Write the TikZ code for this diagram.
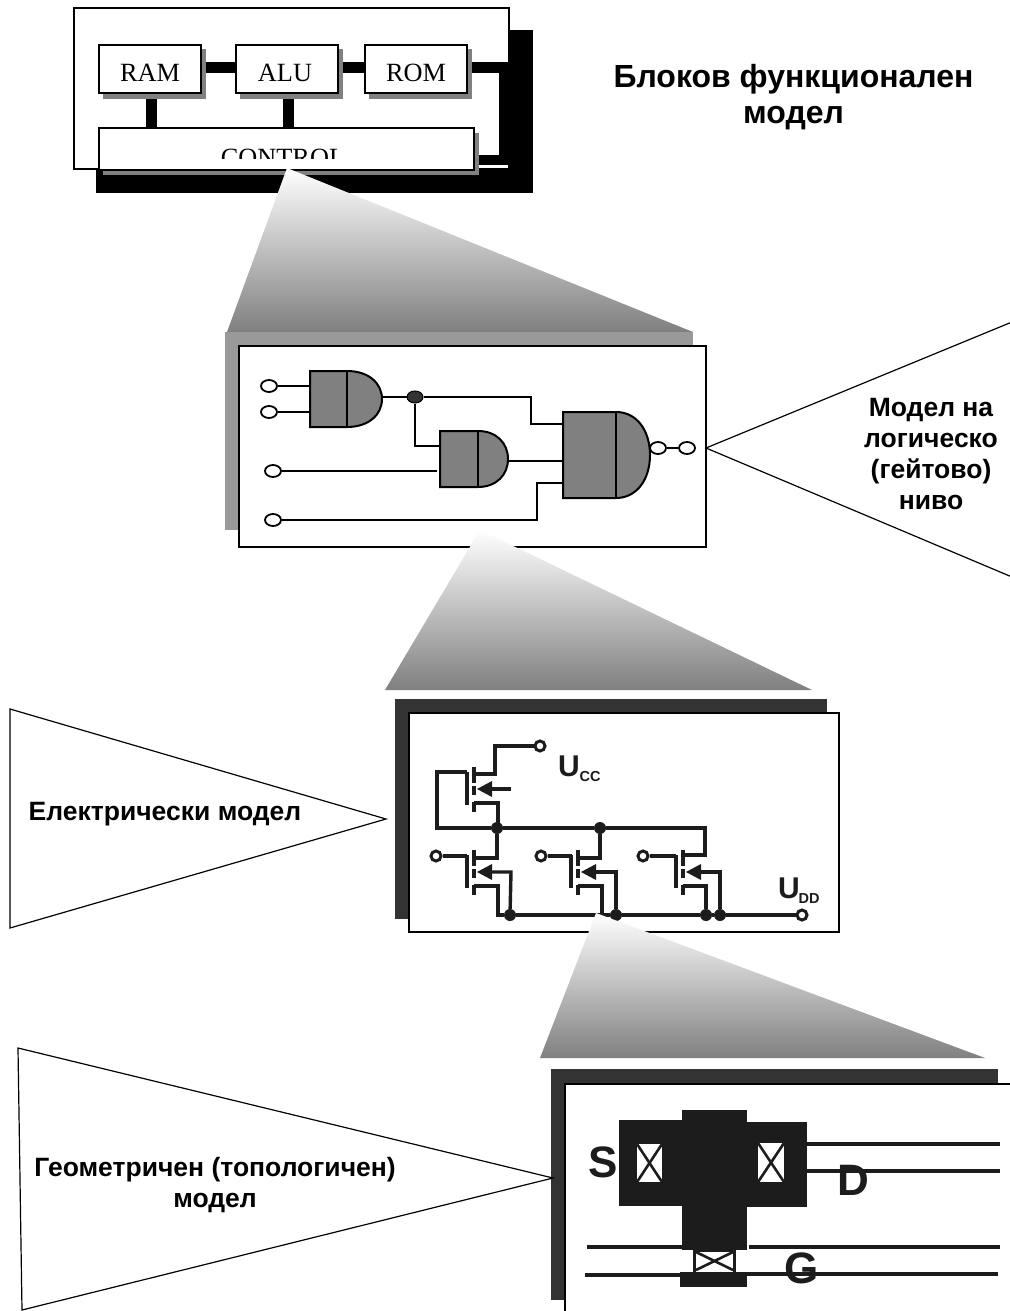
\documentclass[tikz,border=0pt]{standalone}
\usepackage{fontspec}
\setmainfont{Liberation Sans}
\newfontfamily\seriffam{Liberation Serif}
\usetikzlibrary{shapes.geometric}
\definecolor{shadowgrey}{gray}{0.5}
\definecolor{panelgrey}{gray}{0.6}
\definecolor{paneldark}{gray}{0.2}
\definecolor{metal}{gray}{0.11}
\tikzset{
  x=1pt,y=-1pt,
  whitebox/.style={draw=black,fill=white,line width=2pt},
  blockbox/.style={whitebox,minimum width=0pt},
  wedge/.style={top color=white,bottom color=shadowgrey,draw=none},
  callout/.style={draw=black,fill=white,line width=1.2pt,line join=miter},
  blocklabel/.style={font=\seriffam\fontsize{26.3}{30}\selectfont,anchor=base,inner sep=0pt},
  boldlabel/.style={font=\bfseries\fontsize{26.5}{31}\selectfont,align=center,inner sep=0pt},
  titlelabel/.style={font=\bfseries\fontsize{32}{36}\selectfont,align=center,inner sep=0pt},
  gatewire/.style={draw=black,line width=2pt},
  gateshape/.style={draw=black,fill=shadowgrey,line width=2pt},
  pinopen/.style={shape=ellipse,draw=black,fill=white,line width=1.8pt,minimum width=16pt,minimum height=12pt,inner sep=0pt},
  pindot/.style={shape=ellipse,draw=black,fill=paneldark,line width=1pt,minimum width=16pt,minimum height=12pt,inner sep=0pt},
  cwire/.style={draw=metal,line width=3.4pt,line join=miter},
  cdot/.style={shape=circle,fill=metal,draw=none,minimum size=12pt,inner sep=0pt},
  cpin/.style={shape=circle,draw=metal,fill=white,line width=3pt,minimum size=10pt,inner sep=0pt},
  ulabel/.style={font=\bfseries\fontsize{30}{32}\selectfont,text=metal,anchor=base,inner sep=0pt},
  usub/.style={font=\bfseries\fontsize{14.5}{16}\selectfont,text=metal,anchor=base,inner sep=0pt},
  sdg/.style={font=\bfseries\fontsize{44}{46}\selectfont,text=metal,anchor=base,inner sep=0pt},
  xcontact/.style={fill=white,draw=none},
  xcross/.style={draw=metal,line width=2.6pt},
  layline/.style={draw=metal,line width=4pt}
}
% AND gate outline: left, mid, tip x, top, bottom y
\newcommand{\andshape}[5]{%
  \path[gateshape] (#1,#4) -- (#2,#4)
    .. controls ({#2+0.62*(#3-#2)},#4) and (#3,{#4+0.22*(#5-#4)}) .. (#3,{0.5*(#4+#5)})
    .. controls (#3,{#5-0.22*(#5-#4)}) and ({#2+0.62*(#3-#2)},#5) .. (#2,#5)
    -- (#1,#5) -- cycle;
  \draw[gatewire] (#2,#4) -- (#2,#5);}
% MOSFET symbol without its leads, at shift dx; arrow row #2, top #3
\newcommand{\mosbody}[3]{%
  \begin{scope}[shift={(#1,0)}]
  \draw[cwire] (467,{#3+5}) -- (467,{#3+38});
  \draw[cwire] (474,#3) -- (474,{#3+16});
  \draw[cwire] (474,{#3+19}) -- (474,{#3+28});
  \draw[cwire] (474,{#3+35}) -- (474,{#3+45});
  \fill[metal] (477,#2) -- (492,{#2-8}) -- (492,{#2+8}) -- cycle;
  \end{scope}}
\begin{document}
\begin{tikzpicture}
\useasboundingbox (0,0) rectangle (1009,1311);
\fill[white] (0,0) rectangle (1009,1311);

% ---------- block functional model
\fill[black] (509,30) rectangle (533,193);
\fill[black] (96,165) rectangle (533,193);
\draw[whitebox] (74,8) rectangle (509,169);
\fill[white] (475,160) rectangle (508,168);
\fill[black] (478,155) rectangle (499,165);
\fill[white] (478,165) rectangle (508,167.5);
\fill[black] (499,73) rectangle (508.5,165);
\fill[black] (470,62) rectangle (508.5,73);
\fill[black] (205,62) rectangle (235,73);
\fill[black] (343,62) rectangle (364,73);
\fill[black] (146,98) rectangle (157,128);
\fill[black] (283,98) rectangle (294,128);
\foreach \l/\r/\t/\b in {98/201/44.5/94,235/338/44.5/94,364/467/44.5/94,98/474/128/170}
  \fill[shadowgrey] (\l+5,\t+5) rectangle (\r+5,\b+5);
\draw[blockbox] (99,45) rectangle (200.5,93.5);
\draw[blockbox] (235.5,45) rectangle (337.5,93.5);
\draw[blockbox] (364.5,45) rectangle (466.5,93.5);
\draw[blockbox] (99,128.5) rectangle (474,169.5);
\node[blocklabel] (ram) at (150,82) {RAM};
\node[blocklabel] (alu) at (285,82) {ALU};
\node[blocklabel] (rom) at (416,82) {ROM};
\begin{scope}
  \clip (100,130) rectangle (472,158);
  \node[blocklabel] (control) at (283,166) {CONTROL};
\end{scope}
\node[titlelabel] (title) at (793.5,97.5) {Блоков функционален\\модел};

% ---------- wedge 1
\shade[wedge] (287,168) -- (693,332) -- (227,332) -- cycle;

% ---------- gate level panel
\fill[panelgrey] (225,332) rectangle (693,530);
\draw[whitebox] (239,346) rectangle (706,547);
\coordinate (g1out) at (382,397);
\node[pinopen] (i1) at (269,386) {};
\node[pinopen] (i2) at (269,412) {};
\node[pinopen] (i3) at (273,471) {};
\node[pinopen] (i4) at (273,520) {};
\node[pindot] (junc) at (415,397) {};
\draw[gatewire] (i1) -- (310,386);
\draw[gatewire] (i2) -- (310,412);
\draw[gatewire] (i3) -- (437,471);
\draw[gatewire] (i4) -- (537,520) -- (537,483) -- (563,483);
\draw[gatewire] (g1out) -- (junc);
\draw[gatewire] (junc) -- (531,397) -- (531,424) -- (563,424);
\draw[gatewire] (junc) -- (415,446) -- (440,446);
\draw[gatewire] (508,461) -- (563,461);
\andshape{310}{347}{382}{371}{427}
\andshape{440}{478}{508}{431}{487}
\andshape{563}{616}{650}{412}{498}
\node[pinopen] (bub) at (658,448) {};
\node[pinopen] (o1) at (687,448) {};
\draw[gatewire] (bub) -- (o1);

% ---------- callout gate level
\draw[callout] (1012,322) -- (706,448) -- (1012,577);
\node[boldlabel] (lbl2) at (931,454.5) {Модел на\\логическо\\(гейтово)\\ниво};

% ---------- wedge 2
\shade[wedge] (480,530) -- (812,690) -- (385,690) -- cycle;

% ---------- electrical panel
\fill[paneldark] (395,699) rectangle (827,919);
\draw[whitebox] (409,713) rectangle (839,932);
\node[cpin] (ucc) at (540,746) {};
\node[cpin] (g1) at (436,856) {};
\node[cpin] (g2) at (541,856) {};
\node[cpin] (g3) at (643,856) {};
\node[cpin] (udd) at (802,915) {};
\node[cdot] (d1) at (497,828) {};
\node[cdot] (d2) at (600,828) {};
\node[cdot] (d3) at (510,915) {};
\node[cdot] (d4) at (616,915) {};
\node[cdot] (d5) at (706,915) {};
\node[cdot] (d6) at (720,915) {};
\mosbody{0}{789}{767}
\mosbody{0}{872}{850}
\mosbody{104}{872}{850}
\mosbody{209}{872}{850}
\draw[cwire] (ucc) -- (495,746) -- (495,774) -- (474,774);
\draw[cwire] (467,772) -- (437,772) -- (437,828) -- (d1);
\draw[cwire] (490,789) -- (511,789);
\draw[cwire] (474,803) -- (498,803) -- (498,828);
\draw[cwire] (d1) -- (d2) -- (705,828) -- (705,855) -- (683,855);
\draw[cwire] (d1) -- (497,858) -- (474,858);
\draw[cwire] (d2) -- (600,858) -- (578,858);
\draw[cwire] (g1) -- (467,856);
\draw[cwire] (g2) -- (572,856);
\draw[cwire] (g3) -- (676,856);
\draw[cwire] (474,886) -- (498,886) -- (498,915) -- (d3);
\draw[cwire] (578,886) -- (602,886) -- (602,915);
\draw[cwire] (683,886) -- (706,886) -- (d5);
\draw[cwire] (490,872) -- (511,872) -- (d3);
\draw[cwire] (594,872) -- (616,872) -- (d4);
\draw[cwire] (699,872) -- (720,872) -- (d6);
\draw[cwire] (d3) -- (d4) -- (d5) -- (d6) -- (udd);
\node[ulabel] (ulcc) at (569,776) {U};
\node[usub] (ulccs) at (590,781) {CC};
\node[ulabel] (uldd) at (789,898) {U};
\node[usub] (uldds) at (809,903) {DD};

% ---------- callout electrical
\draw[callout] (10,709) -- (386,819) -- (10,928) -- cycle;
\node[boldlabel] (lbl3) at (165,814) {Електрически модел};

% ---------- wedge 3
\shade[wedge] (596,913) -- (985,1058) -- (540,1058) -- cycle;

% ---------- geometric panel
\fill[paneldark] (551,1069) rectangle (998,1300);
\draw[whitebox] (565,1084) rectangle (1020,1330);
\draw[layline] (800,1144) -- (1000,1144);
\draw[layline] (800,1171) -- (1000,1171);
\draw[layline] (587,1247) -- (690,1247);
\draw[layline] (740,1247) -- (1000,1247);
\draw[layline] (585,1275) -- (690,1275);
\draw[layline] (740,1274) -- (998,1274);
\fill[metal] (619,1120) rectangle (682,1206);
\fill[metal] (682,1110) rectangle (747,1250);
\fill[metal] (747,1122) rectangle (807,1207);
\fill[white] (747,1242) rectangle (748.5,1252);
\fill[metal] (680,1272) rectangle (747,1287);
\fill[white] (693,1250) rectangle (736,1272);
\fill[metal] (693,1250) rectangle (696,1272);
\fill[metal] (733,1250) rectangle (736,1272);
\fill[metal] (693,1250) rectangle (736,1252);
\foreach \l/\r/\t/\b in {637/662/1144/1182,758/784/1143/1182,696/733/1252/1270}{
  \fill[xcontact] (\l,\t) rectangle (\r,\b);
  \draw[xcross] (\l,\t) -- (\r,\b);
  \draw[xcross] (\r,\t) -- (\l,\b);
}
\node[sdg] (ls) at (603,1177) {S};
\node[sdg] (ld) at (853,1195) {D};
\node[sdg] (lg) at (802,1283) {G};

% ---------- callout geometric
\draw[callout] (18,1048) -- (553,1178) -- (22,1310) -- cycle;
\node[boldlabel] (lbl4) at (215,1185.5) {Геометричен (топологичен)\\модел};
\end{tikzpicture}
\end{document}
